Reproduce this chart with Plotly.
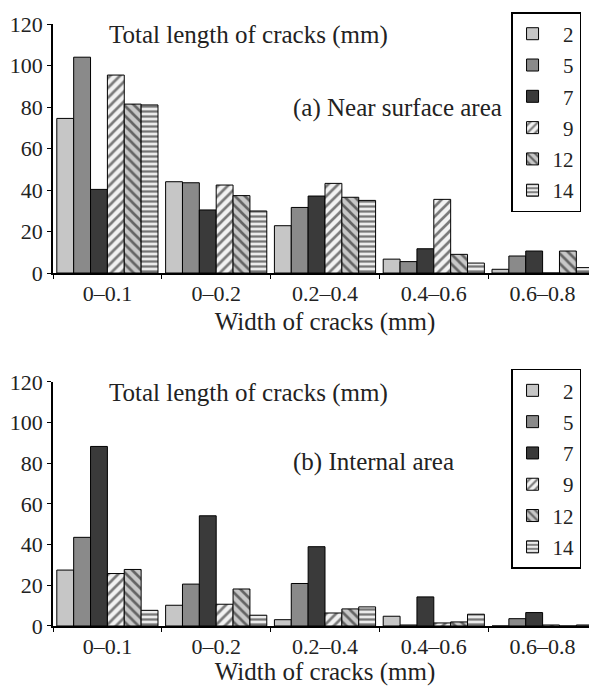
import plotly.graph_objects as go

categories = ["0–0.1", "0–0.2", "0.2–0.4", "0.4–0.6", "0.6–0.8"]
series_names = ["2", "5", "7", "9", "12", "14"]

# (a) Near surface area
near_2 = [74.5, 44.0, 22.8, 6.7, 1.8]
near_5 = [104.0, 43.5, 31.6, 5.5, 8.2]
near_7 = [40.3, 30.4, 37.1, 11.7, 10.6]
near_9 = [95.4, 42.4, 43.2, 35.5, 0.0]
near_12 = [81.4, 37.3, 36.5, 9.0, 10.6]
near_14 = [81.0, 29.9, 35.0, 4.8, 2.6]

# (b) Internal area
int_2 = [27.5, 10.2, 3.1, 4.8, 0.0]
int_5 = [43.6, 20.6, 20.9, 0.5, 3.6]
int_7 = [88.3, 54.2, 39.0, 14.3, 6.6]
int_9 = [25.8, 10.7, 6.4, 1.5, 0.5]
int_12 = [27.8, 18.2, 8.4, 2.0, 0.0]
int_14 = [7.7, 5.3, 9.4, 5.8, 0.5]

near = [near_2, near_5, near_7, near_9, near_12, near_14]
internal = [int_2, int_5, int_7, int_9, int_12, int_14]

styles = [
    dict(color="#c6c6c6", pattern=None),
    dict(color="#8a8a8a", pattern=None),
    dict(color="#3a3a3a", pattern=None),
    dict(color="#f2f2f2", pattern=dict(shape="/", fgcolor="black", size=7, solidity=0.38)),
    dict(color="#c8c8c8", pattern=dict(shape="\\", fgcolor="black", size=7, solidity=0.38)),
    dict(color="#ececec", pattern=dict(shape="-", fgcolor="black", size=5, solidity=0.45)),
]

FONT = "Liberation Serif"
TXT = "#222222"
TICK_FS = 22
TEXT_FS = 25
LEG_FS = 21

fig = go.Figure()

def label(n):
    return ("\u2007" + n) if len(n) == 1 else n

for panel, data, xa, ya, leg in [("a", near, "x", "y", "legend"), ("b", internal, "x2", "y2", "legend2")]:
    for name, vals, st in zip(series_names, data, styles):
        marker = dict(color=st["color"], line=dict(color="black", width=1))
        if st["pattern"]:
            marker["pattern"] = st["pattern"]
        fig.add_trace(go.Bar(
            x=categories, y=vals, name=label(name), marker=marker,
            xaxis=xa, yaxis=ya, legend=leg, legendgroup=panel + name,
        ))

axis_common = dict(showline=True, linecolor="black", linewidth=1.5, ticks="outside",
                   ticklen=4, tickcolor="black", showgrid=False, zeroline=False,
                   automargin=False,
                   tickfont=dict(family=FONT, size=TICK_FS, color=TXT))

legend_common = dict(bgcolor="white", bordercolor="black", borderwidth=1.5,
                     font=dict(family=FONT, size=LEG_FS, color=TXT),
                     xanchor="left", yanchor="top", tracegroupgap=1,
                     traceorder="grouped", itemclick=False)

xtitle = dict(text="Width of cracks (mm)", standoff=7,
              font=dict(family=FONT, size=TEXT_FS, color=TXT))

fig.update_layout(
    width=589, height=678,
    margin=dict(l=45, r=0, t=0, b=0, autoexpand=False),
    plot_bgcolor="white", paper_bgcolor="white",
    barmode="group", bargap=0.07, bargroupgap=0,
    font=dict(family=FONT, size=TICK_FS, color=TXT),
    xaxis=dict(axis_common, type="category", tickson="boundaries", anchor="y",
               domain=[0, 1], title=xtitle),
    yaxis=dict(axis_common, range=[0, 120], dtick=20, domain=[0.6091, 0.9764], anchor="x"),
    xaxis2=dict(axis_common, type="category", tickson="boundaries", anchor="y2",
                domain=[0, 1], title=xtitle),
    yaxis2=dict(axis_common, range=[0, 120], dtick=20, domain=[0.0885, 0.4484], anchor="x2"),
    legend=dict(legend_common, x=0.842, y=0.994),
    legend2=dict(legend_common, x=0.842, y=0.468),
    annotations=[
        dict(text="Total length of cracks (mm)", xref="paper", yref="paper", x=0.0993, y=0.9602,
             xanchor="left", yanchor="middle", showarrow=False, font=dict(family=FONT, size=TEXT_FS, color=TXT)),
        dict(text="(a) Near surface area", xref="paper", yref="paper", x=0.437, y=0.8525,
             xanchor="left", yanchor="middle", showarrow=False, font=dict(family=FONT, size=TEXT_FS, color=TXT)),
        dict(text="Total length of cracks (mm)", xref="paper", yref="paper", x=0.0993, y=0.4322,
             xanchor="left", yanchor="middle", showarrow=False, font=dict(family=FONT, size=TEXT_FS, color=TXT)),
        dict(text="(b) Internal area", xref="paper", yref="paper", x=0.437, y=0.3304,
             xanchor="left", yanchor="middle", showarrow=False, font=dict(family=FONT, size=TEXT_FS, color=TXT)),
    ],
)

fig.write_html("out.html")
